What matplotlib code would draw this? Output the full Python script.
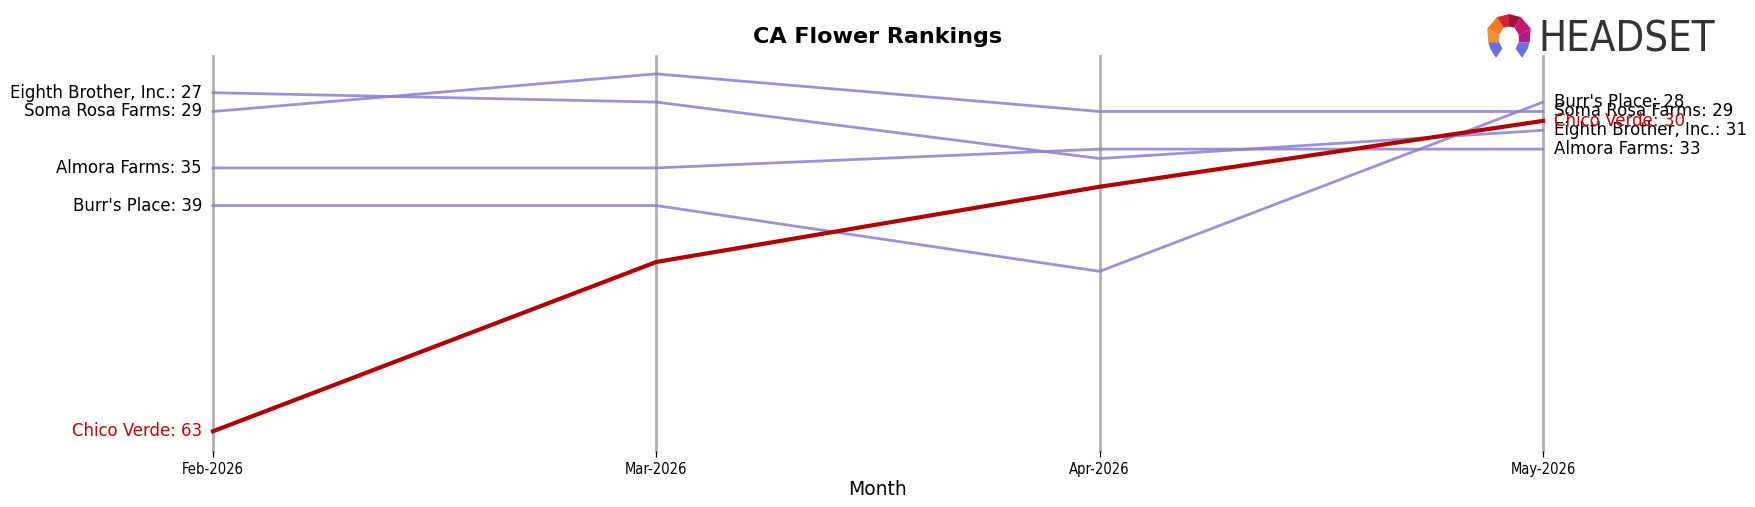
import matplotlib
matplotlib.use("Agg")
import matplotlib.pyplot as plt
from matplotlib.patches import Polygon

months = ["Feb-2026", "Mar-2026", "Apr-2026", "May-2026"]
brands = ["Eighth Brother, Inc.", "Soma Rosa Farms", "Almora Farms", "Burr's Place", "Chico Verde"]
eighth_brother = [27, 28, 34, 31]
soma_rosa = [29, 25, 29, 29]
almora = [35, 35, 33, 33]
burrs_place = [39, 39, 46, 28]
chico_verde = [63, 45, 37, 30]
ranks = [eighth_brother, soma_rosa, almora, burrs_place, chico_verde]
highlight = "Chico Verde"

purple = "#8b7dd8"
red = "#b40000"

fig = plt.figure(figsize=(17.56, 5.07), dpi=100)
ax = fig.add_axes([213 / 1756, 1 - 451 / 507, 1330 / 1756, 395 / 507])

x = list(range(len(months)))
for i in x:
    ax.axvline(i, color="#b0b0b0", lw=2, zorder=0, clip_on=False)

for name, r in zip(brands, ranks):
    if name == highlight:
        ax.plot(x, r, color=red, lw=3, zorder=3, clip_on=False)
        tc = "#cc0000"
    else:
        ax.plot(x, r, color=purple, lw=2, alpha=0.85, zorder=2, clip_on=False)
        tc = "black"
    ax.text(-0.025, r[0], f"{name}: {r[0]}", ha="right", va="center", fontsize=13.2,
            color=tc, fontstretch="condensed", family="DejaVu Sans")
    ax.text(x[-1] + 0.025, r[-1], f"{name}: {r[-1]}", ha="left", va="center", fontsize=12,
            color=tc)

ax.set_xlim(0, 3)
ax.set_ylim(65.1, 23.1)
ax.set_yticks([])
ax.set_xticks(x)
ax.set_xticklabels(months, fontsize=10.5, fontstretch="condensed")
ax.tick_params(axis="x", length=4, pad=4)
for s in ax.spines.values():
    s.set_visible(False)
ax.set_xlabel("Month", fontsize=13.5, labelpad=2)

fig.text(0.5, 1 - 37 / 507, "CA Flower Rankings", ha="center", va="center",
         fontsize=16, fontweight="bold")

# logo
lax = fig.add_axes([1485 / 1756, 1 - 59 / 507, 48 / 1756, 46 / 507])
lax.set_xlim(-1.1, 1.1)
lax.set_ylim(-1.1, 1.1)
lax.axis("off")
pieces = [
    ([(-1, 0.35), (-0.55, 0.9), (-0.25, 0.4), (-0.45, 0.05)], "#f07a28"),
    ([(-1, 0.35), (-0.45, 0.05), (-0.45, -0.3), (-0.95, -0.3)], "#f39230"),
    ([(-0.55, 0.9), (0, 1.05), (0, 0.45), (-0.25, 0.4)], "#d42335"),
    ([(0, 1.05), (0.55, 0.9), (0.25, 0.4), (0, 0.45)], "#a3133b"),
    ([(0.55, 0.9), (1, 0.35), (0.45, 0.05), (0.25, 0.4)], "#c4166f"),
    ([(1, 0.35), (0.95, -0.3), (0.45, -0.3), (0.45, 0.05)], "#b01a8a"),
    ([(-0.95, -0.3), (-0.45, -0.3), (-0.3, -0.6), (-0.6, -1.05)], "#6a6ee0"),
    ([(-0.95, -0.3), (-0.6, -1.05), (-0.85, -0.6)], "#2e3591"),
    ([(0.95, -0.3), (0.45, -0.3), (0.3, -0.6), (0.6, -1.05)], "#6a6ee0"),
    ([(0.95, -0.3), (0.6, -1.05), (0.85, -0.6)], "#2e3591"),
]
for pts, c in pieces:
    lax.add_patch(Polygon(pts, closed=True, color=c, lw=0))
fig.text(1538 / 1756, 1 - 39 / 507, "HEADSET", ha="left", va="center", fontsize=30,
         color="#333333", fontstretch="condensed")

fig.savefig("out.png", dpi=100)
